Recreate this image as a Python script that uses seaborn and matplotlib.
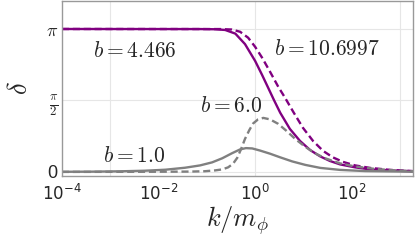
import numpy as np
import pandas as pd
import matplotlib
matplotlib.use("Agg")
import matplotlib.pyplot as plt
import matplotlib.ticker as mticker
import seaborn as sns

# curves: log10(k/m_phi) and delta
logk_b4466 = [-4.0, -1.14, -0.83, -0.62, -0.41, -0.21, 0.0, 0.145, 0.27, 0.39, 0.52, 0.72, 0.93,
              1.14, 1.35, 1.55, 1.76, 2.07, 2.38, 2.80, 3.27]
delta_b4466 = [3.1416, 3.14, 3.136, 3.12, 3.04, 2.81, 2.44, 2.13, 1.85, 1.58, 1.30, 0.945, 0.68,
               0.48, 0.34, 0.24, 0.165, 0.10, 0.055, 0.03, 0.015]

logk_b107 = [-4.0, -0.72, -0.48, -0.31, -0.145, 0.0, 0.145, 0.31, 0.48, 0.62, 0.79, 0.99, 1.20,
             1.41, 1.61, 1.82, 2.07, 2.38, 2.80, 3.27]
delta_b107 = [3.1416, 3.14, 3.13, 3.08, 2.95, 2.75, 2.51, 2.20, 1.87, 1.63, 1.32, 0.97, 0.68,
              0.46, 0.32, 0.22, 0.143, 0.088, 0.044, 0.018]

logk_b6 = [-4.0, -2.17, -1.35, -1.04, -0.83, -0.68, -0.56, -0.46, -0.37, -0.29, -0.21, -0.12, -0.04,
           0.06, 0.17, 0.31, 0.48, 0.64, 0.83, 1.04, 1.24, 1.45, 1.76, 2.07, 2.48, 2.90, 3.27]
delta_b6 = [0.0, 0.003, 0.007, 0.015, 0.033, 0.055, 0.10, 0.176, 0.31, 0.505, 0.725, 0.92, 1.066,
            1.154, 1.187, 1.154, 1.055, 0.91, 0.725, 0.55, 0.41, 0.30, 0.187, 0.12, 0.066, 0.033, 0.015]

logk_b1 = [-4.0, -3.42, -2.80, -2.28, -1.86, -1.45, -1.14, -0.89, -0.68, -0.48, -0.31, -0.19, -0.06,
           0.10, 0.31, 0.52, 0.77, 1.04, 1.35, 1.76, 2.28, 3.27]
delta_b1 = [0.003, 0.005, 0.013, 0.026, 0.048, 0.092, 0.143, 0.21, 0.30, 0.41, 0.495, 0.523, 0.516,
            0.47, 0.40, 0.32, 0.23, 0.154, 0.088, 0.044, 0.018, 0.004]

labels = ["b = 4.466", "b = 10.6997", "b = 6.0", "b = 1.0"]
ytick_vals = [0, np.pi / 2, np.pi]
ytick_labels = ["0", r"$\frac{\pi}{2}$", r"$\pi$"]
xtick_vals = [1e-4, 1e-2, 1e0, 1e2]
xtick_labels = [r"$10^{-4}$", r"$10^{-2}$", r"$10^{0}$", r"$10^{2}$"]
grid_x = [1e-3, 1e0, 1e3]

frames = []
for lab, lk, d in zip(labels, [logk_b4466, logk_b107, logk_b6, logk_b1],
                      [delta_b4466, delta_b107, delta_b6, delta_b1]):
    frames.append(pd.DataFrame({"k": 10.0 ** np.array(lk), "delta": d, "b": lab}))
df = pd.concat(frames, ignore_index=True)

sns.set_style("white")
plt.rcParams["mathtext.fontset"] = "cm"
plt.rcParams["font.family"] = ["Liberation Sans", "DejaVu Sans"]

purple = "#800080"
gray = "#808080"
pal = {"b = 4.466": purple, "b = 10.6997": purple, "b = 6.0": gray, "b = 1.0": gray}
dash = {"b = 4.466": "", "b = 10.6997": (3, 1.6), "b = 6.0": (3, 1.6), "b = 1.0": ""}

fig = plt.figure(figsize=(4.17, 2.47), dpi=100)
ax = fig.add_axes([62 / 417, 1 - 176 / 247, 351 / 417, 175 / 247])

for g in grid_x:
    ax.axvline(g, color="#e6e6e6", lw=0.8, zorder=0)
for g in ytick_vals:
    ax.axhline(g, color="#e6e6e6", lw=0.8, zorder=0)

sns.lineplot(data=df, x="k", y="delta", hue="b", style="b", palette=pal, dashes=dash,
             lw=1.7, legend=False, ax=ax, sort=True)

ax.set_xscale("log")
ax.set_xlim(1e-4, 10 ** 3.27)
ax.set_ylim(-0.09, 3.757)

ax.set_xticks(xtick_vals)
ax.set_xticklabels(xtick_labels, fontsize=12, math_fontfamily="dejavusans")
ax.xaxis.set_minor_locator(mticker.LogLocator(base=10, subs=np.arange(2, 10), numticks=20))
ax.xaxis.set_minor_formatter(mticker.NullFormatter())
ax.set_yticks(ytick_vals)
ax.set_yticklabels(ytick_labels, fontsize=13)
ax.tick_params(axis="both", which="major", direction="in", length=5, width=0.7, color="#999999", pad=3)
ax.tick_params(axis="x", which="major", pad=5)
ax.tick_params(axis="x", which="minor", direction="in", length=3, width=0.6, color="#999999")

for s in ax.spines.values():
    s.set_color("#999999")
    s.set_linewidth(1.0)

ax.set_xlabel(r"$k/m_\phi$", fontsize=19, labelpad=1)
ax.set_ylabel(r"$\delta$", fontsize=19, labelpad=10)

txt = dict(fontsize=15.5, ha="center", va="center")
ax.text(10 ** -2.5, 2.64, r"$b = 4.466$", **txt)
ax.text(10 ** 1.49, 2.68, r"$b = 10.6997$", **txt)
ax.text(10 ** -0.5, 1.43, r"$b = 6.0$", **txt)
ax.text(10 ** -2.5, 0.33, r"$b = 1.0$", **txt)

fig.savefig("out.png", dpi=100)
